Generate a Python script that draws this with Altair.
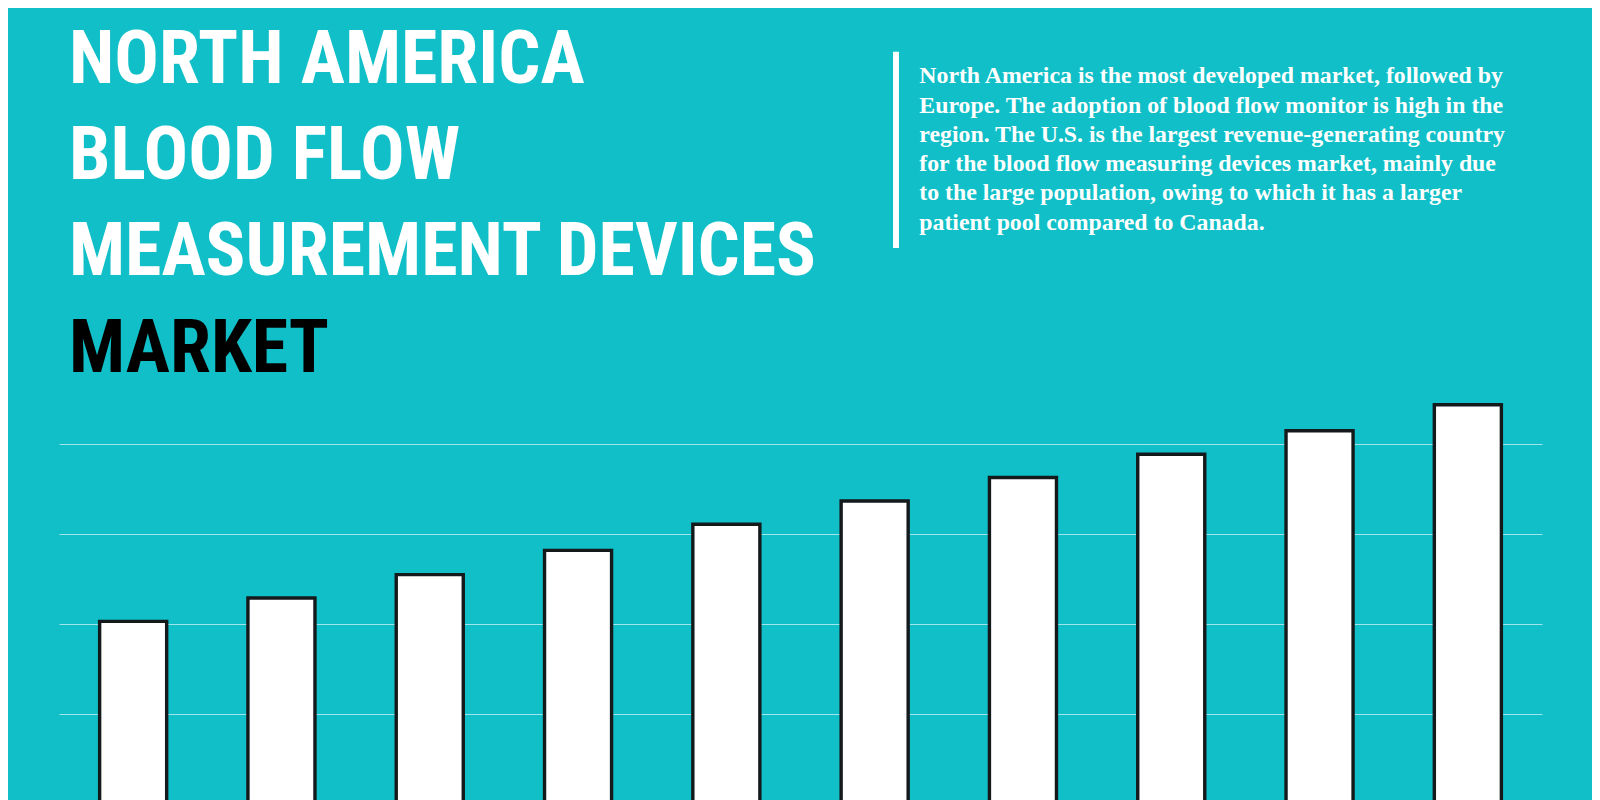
import altair as alt
import pandas as pd

# ---- data ----
years = ["2021", "2022", "2023", "2024", "2025", "2026", "2027", "2028", "2029", "2030"]
values = [2.03, 2.29, 2.55, 2.82, 3.11, 3.37, 3.63, 3.89, 4.15, 4.44]
grid_values = [1, 2, 3, 4]

title_white = ["NORTH AMERICA", "BLOOD FLOW", "MEASUREMENT DEVICES"]
title_black = "MARKET"
para_lines = [
    "North America is the most developed market, followed by",
    "Europe. The adoption of blood flow monitor is high in the",
    "region. The U.S. is the largest revenue-generating country",
    "for the blood flow measuring devices market, mainly due",
    "to the large population, owing to which it has a larger",
    "patient pool compared to Canada.",
]

BG = "#10BFC7"
TFONT = "'Roboto Condensed', 'Liberation Sans Narrow', 'DejaVu Sans Condensed', sans-serif"
PFONT = "'Liberation Serif', 'Times New Roman', serif"

df = pd.DataFrame({"year": years, "value": values})
one = pd.DataFrame({"k": [0]})

bars = alt.Chart(df).mark_bar(
    fill="white", stroke="#141a1c", strokeWidth=3.4
).encode(
    x=alt.X("year:N", scale=alt.Scale(paddingInner=0.548, paddingOuter=0.274), axis=None),
    y=alt.Y(
        "value:Q",
        scale=alt.Scale(domain=[0, 5], range=[795.9, 346.4], nice=False, zero=True),
        axis=alt.Axis(values=grid_values, grid=True, gridColor="#ffffff", gridOpacity=0.6,
                      gridWidth=1.2, domain=False, ticks=False, labels=False, title=""),
    ),
)

t_white = alt.Chart(one).mark_text(
    text=title_white, font=TFONT, fontSize=74, fontWeight="bold", color="white",
    align="left", baseline="alphabetic", lineHeight=96,
).encode(x=alt.value(10), y=alt.value(75.3))

t_black = alt.Chart(one).mark_text(
    text=title_black, font=TFONT, fontSize=74, fontWeight="bold", color="black",
    align="left", baseline="alphabetic",
).encode(x=alt.value(10), y=alt.value(363.7))

vbar = alt.Chart(one).mark_rule(color="white", strokeWidth=6).encode(
    x=alt.value(837), y=alt.value(43.7), y2=alt.value(240)
)

para = alt.Chart(one).mark_text(
    text=para_lines, font=PFONT, fontSize=23.8, fontWeight="bold", color="white",
    align="left", baseline="alphabetic", lineHeight=29.3,
).encode(x=alt.value(860.3), y=alt.value(75.3))

chart = alt.layer(bars, t_white, t_black, vbar, para).properties(
    width=1483, height=792,
    padding={"left": 51, "top": 0, "right": 50, "bottom": 0},
    autosize=alt.AutoSizeParams(type="none"),
    background=BG,
).configure_view(strokeWidth=0)

chart.save("out.html", embed_options={"renderer": "svg", "actions": False})
